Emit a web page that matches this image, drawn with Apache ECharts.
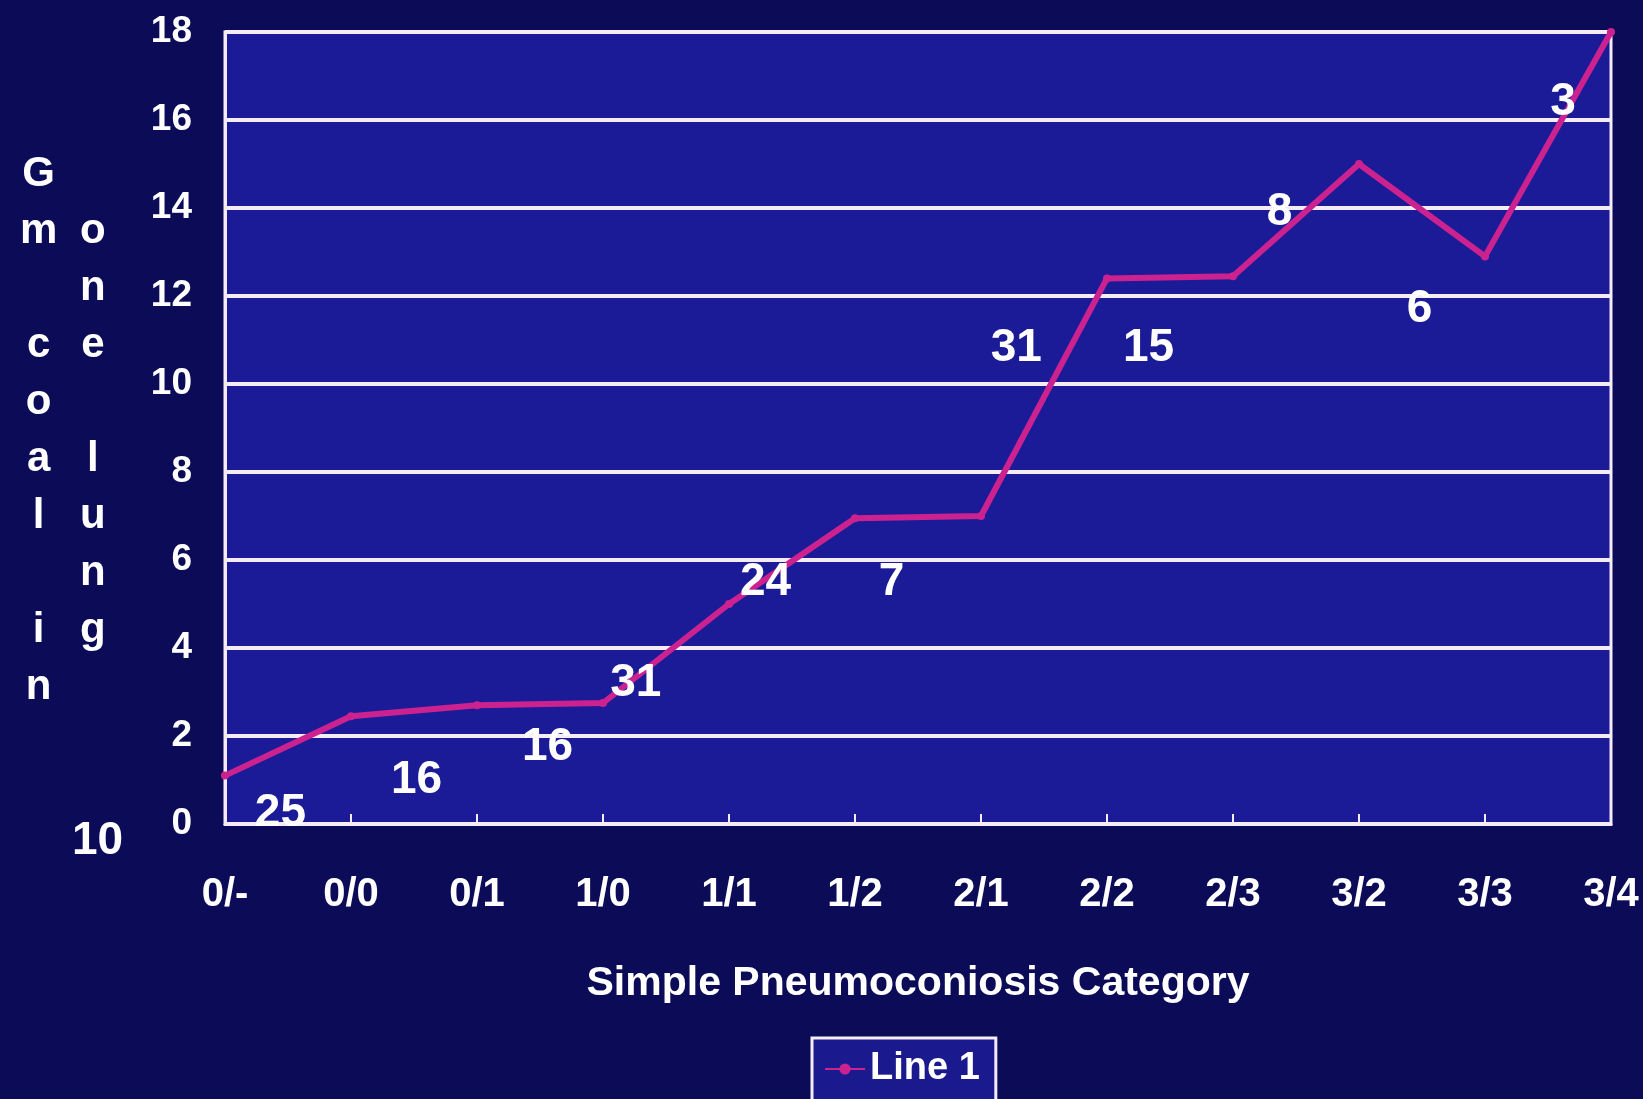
<!DOCTYPE html>
<html>
<head>
<meta charset="utf-8">
<script src="https://cdn.jsdelivr.net/npm/echarts@6/dist/echarts.min.js"></script>
<style>
html,body{margin:0;padding:0;background:#0c0c5a;}
#chart{width:1643px;height:1099px;}
</style>
</head>
<body>
<div id="chart"></div>
<script>
// ---- data ----
var categories = ['0/-','0/0','0/1','1/0','1/1','1/2','2/1','2/2','2/3','3/2','3/3','3/4'];
var gmCoal = [1.1, 2.45, 2.7, 2.75, 5.0, 6.95, 7.0, 12.4, 12.45, 15.0, 12.9, 18.0];
var sampleCounts = ['25','16','16','31','24','7','31','15','8','6','3'];
// where the count annotations sit (category units, y units)
var countAnchorX = [0.44, 1.52, 2.56, 3.26, 4.29, 5.29, 6.28, 7.33, 8.37, 9.48, 10.62];
var countAnchorY = [0.24, 1.0, 1.74, 3.2, 5.5, 5.5, 10.8, 10.8, 13.9, 11.7, 16.4];
var yTicks = [0, 2, 4, 6, 8, 10, 12, 14, 16, 18];
var xAxisTitle = 'Simple Pneumoconiosis Category';
var yTitleCol1 = ['G','m',' ','c','o','a','l',' ','i','n'];
var yTitleCol2 = ['o','n','e',' ','l','u','n','g'];
var seriesName = 'Line 1';

var WHITE = '#f6ecf8';
var BOLD = "'Liberation Sans',Arial,sans-serif";
var LINE = '#cc2290';

var countPoints = sampleCounts.map(function (c, i) {
  return { value: [countAnchorX[i], countAnchorY[i]], label: { formatter: c } };
});

var chart = echarts.init(document.getElementById('chart'), null, { renderer: 'canvas' });
chart.setOption({
  backgroundColor: '#0c0b58',
  animation: false,
  grid: {
    left: 225, right: 32, top: 32, bottom: 275,
    show: true, backgroundColor: '#1b1b98', borderColor: WHITE, borderWidth: 3
  },
  legend: {
    data: [seriesName],
    left: 812, top: 1038,
    padding: [12, 16, 40, 12],
    backgroundColor: '#1a1a8e',
    borderColor: WHITE, borderWidth: 3, borderRadius: 0,
    itemWidth: 40, itemHeight: 14, itemGap: 4,
    textStyle: { color: '#ffffff', fontFamily: BOLD, fontWeight: 'bold', fontSize: 38 }
  },
  xAxis: [{
    type: 'category', data: categories, boundaryGap: false,
    axisLine: { lineStyle: { color: WHITE, width: 3 } },
    axisTick: { show: true, inside: true, length: 10, lineStyle: { color: WHITE, width: 2 } },
    axisLabel: { color: '#ffffff', fontFamily: BOLD, fontWeight: 'bold', fontSize: 40, margin: 51 },
    splitLine: { show: false },
    name: xAxisTitle, nameLocation: 'middle', nameGap: 139,
    nameTextStyle: { color: '#ffffff', fontFamily: BOLD, fontWeight: 'bold', fontSize: 41 }
  }, {
    type: 'value', min: 0, max: 11, show: false
  }],
  yAxis: {
    type: 'value', min: 0, max: 18, interval: 2,
    axisLine: { show: true, lineStyle: { color: WHITE, width: 3 } },
    axisTick: { show: false },
    axisLabel: {
      color: '#ffffff', fontFamily: BOLD, fontWeight: 'bold', fontSize: 37, margin: 33,
      formatter: function (v) { return yTicks.indexOf(v) >= 0 ? String(v) : ''; }
    },
    splitLine: { show: true, lineStyle: { color: WHITE, width: 4 } }
  },
  graphic: [
    { type: 'text', left: 20, top: 146,
      style: { text: yTitleCol1.join('\n'), fill: '#ffffff', font: 'bold 42px ' + BOLD, lineHeight: 57, textAlign: 'center' } },
    { type: 'text', left: 80, top: 203,
      style: { text: yTitleCol2.join('\n'), fill: '#ffffff', font: 'bold 42px ' + BOLD, lineHeight: 57, textAlign: 'center' } },
    { type: 'text', left: 72, top: 818,
      style: { text: '10', fill: '#ffffff', font: 'bold 46px ' + BOLD } }
  ],
  series: [{
    name: seriesName, type: 'line', data: gmCoal,
    symbol: 'circle', symbolSize: 8,
    lineStyle: { color: LINE, width: 6 },
    itemStyle: { color: LINE },
    z: 3
  }, {
    type: 'scatter', xAxisIndex: 1, data: countPoints,
    symbolSize: 0, silent: true,
    itemStyle: { opacity: 1 },
    label: {
      show: true, position: 'inside', color: '#ffffff', opacity: 1,
      fontFamily: BOLD, fontWeight: 'bold', fontSize: 46
    },
    z: 4
  }]
});
</script>
</body>
</html>
